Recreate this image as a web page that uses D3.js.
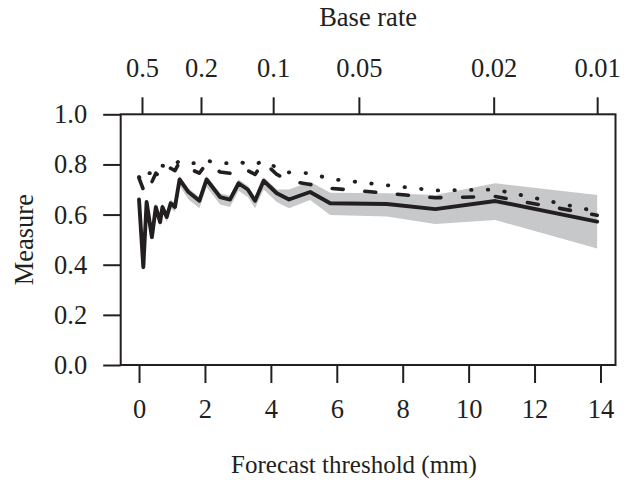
<!DOCTYPE html>
<html>
<head>
<meta charset="utf-8">
<script src="https://cdn.jsdelivr.net/npm/d3@7"></script>
<style>
  body { margin:0; background:#ffffff; }
  text { font-family:"Liberation Serif","Times New Roman",serif; fill:#231f20; }
</style>
</head>
<body>
<div id="chart"></div>
<script>
// forecast thresholds (mm) where each measure was evaluated
var thresholds = [0, 0.13, 0.23, 0.39, 0.51, 0.64, 0.71, 0.84, 0.96, 1.09, 1.23, 1.5, 1.83, 2.05, 2.46, 2.76, 3.02, 3.3, 3.52, 3.78, 4.18, 4.55, 5.19, 5.8, 7.52, 8.99, 10.81, 13.9];
// solid line and its grey band
var solidValues = [0.66, 0.39, 0.65, 0.51, 0.63, 0.57, 0.63, 0.59, 0.645, 0.63, 0.74, 0.69, 0.655, 0.74, 0.67, 0.66, 0.725, 0.70, 0.655, 0.735, 0.685, 0.66, 0.69, 0.645, 0.642, 0.622, 0.654, 0.572];
var bandLower = [0.645, 0.38, 0.63, 0.495, 0.61, 0.55, 0.61, 0.57, 0.625, 0.61, 0.715, 0.66, 0.625, 0.71, 0.64, 0.63, 0.695, 0.67, 0.625, 0.70, 0.65, 0.625, 0.658, 0.598, 0.592, 0.562, 0.578, 0.465];
var bandUpper = [0.67, 0.40, 0.665, 0.525, 0.645, 0.585, 0.645, 0.605, 0.66, 0.645, 0.755, 0.705, 0.67, 0.755, 0.685, 0.675, 0.74, 0.715, 0.67, 0.75, 0.70, 0.70, 0.731, 0.687, 0.685, 0.678, 0.725, 0.678];
// dashed and dotted measures
var dashedValues = [0.745, 0.70, 0.75, 0.73, 0.765, 0.75, 0.775, 0.765, 0.785, 0.775, 0.81, 0.785, 0.765, 0.805, 0.77, 0.765, 0.79, 0.775, 0.76, 0.81, 0.76, 0.735, 0.72, 0.705, 0.685, 0.667, 0.672, 0.597];
var dottedValues = [0.75, 0.735, 0.765, 0.765, 0.785, 0.785, 0.795, 0.79, 0.80, 0.80, 0.815, 0.805, 0.805, 0.815, 0.805, 0.805, 0.812, 0.80, 0.80, 0.815, 0.787, 0.768, 0.765, 0.742, 0.717, 0.696, 0.70, 0.612];

// axis ticks
var xTicks = [0, 2, 4, 6, 8, 10, 12, 14];
var yTicks = [0, 0.2, 0.4, 0.6, 0.8, 1.0];
var baseRateLabels = ["0.5", "0.2", "0.1", "0.05", "0.02", "0.01"];
var baseRatePos = [0.09, 1.88, 4.07, 6.67, 10.76, 13.9];

var width = 628, height = 480;
var plotLeft = 120.7, plotRight = 615.5, plotTop = 114.3, plotBottom = 365;
var ink = "#231f20";
var fontSize = "26.5px";

var svg = d3.select("#chart").append("svg").attr("width",width).attr("height",height);

// R style 4% padding on x
var ext = d3.extent(thresholds);
var pad = (ext[1]-ext[0])*0.04;
var xScale = d3.scaleLinear().domain([ext[0]-pad, ext[1]+pad]).range([plotLeft, plotRight]);
var yScale = d3.scaleLinear().domain([0,1]).range([plotBottom, plotTop]);

var rows = thresholds.map(function(t,i) {
    return {x:t, solid:solidValues[i], lo:bandLower[i], hi:bandUpper[i], dashed:dashedValues[i], dotted:dottedValues[i]};
});

//band
svg.append("path")
    .datum(rows)
    .attr("fill","#c7c8ca")
    .attr("stroke","none")
    .attr("d", d3.area()
        .x(function(d){ return xScale(d.x); })
        .y0(function(d){ return yScale(d.lo); })
        .y1(function(d){ return yScale(d.hi); }));

function drawLine(key, dash, w) {
    svg.append("path")
        .datum(rows)
        .attr("fill","none")
        .attr("stroke",ink)
        .attr("stroke-width",w)
        .attr("stroke-linecap","round")
        .attr("stroke-linejoin","round")
        .attr("stroke-dasharray",dash)
        .attr("d", d3.line()
            .x(function(d){ return xScale(d.x); })
            .y(function(d){ return yScale(d[key]); }));
}
drawLine("dotted","0.5,16.2",3.8);
drawLine("dashed","11,21.7",3.6);
drawLine("solid",null,3.9);

//box
svg.append("rect")
    .attr("x",plotLeft).attr("y",plotTop)
    .attr("width",plotRight-plotLeft).attr("height",plotBottom-plotTop)
    .attr("fill","none").attr("stroke",ink).attr("stroke-width",2);

function styleAxis(g) {
    g.select(".domain").remove();
    g.selectAll(".tick line").attr("stroke",ink).attr("stroke-width",2);
    g.selectAll(".tick text").attr("fill",ink).style("font-family","'Liberation Serif',serif").style("font-size",fontSize);
}

var axisB = svg.append("g").attr("transform","translate(0,"+plotBottom+")")
    .call(d3.axisBottom(xScale).tickValues(xTicks).tickSize(18).tickPadding(16).tickFormat(d3.format("d")));
styleAxis(axisB);

var axisL = svg.append("g").attr("transform","translate("+plotLeft+",0)")
    .call(d3.axisLeft(yScale).tickValues(yTicks).tickSize(17.5).tickPadding(16).tickFormat(d3.format(".1f")));
styleAxis(axisL);

var axisT = svg.append("g").attr("transform","translate(0,"+plotTop+")")
    .call(d3.axisTop(xScale).tickValues(baseRatePos).tickSize(17).tickPadding(20)
        .tickFormat(function(d,i){ return baseRateLabels[i]; }));
styleAxis(axisT);

//titles
svg.append("text")
    .attr("x",(plotLeft+plotRight)/2).attr("y",26)
    .attr("text-anchor","middle").style("font-size",fontSize)
    .text("Base rate");

svg.append("text")
    .attr("x",354).attr("y",473)
    .attr("text-anchor","middle").style("font-size","25px")
    .text("Forecast threshold (mm)");

svg.append("text")
    .attr("transform","translate(33,"+((plotTop+plotBottom)/2)+") rotate(-90)")
    .attr("text-anchor","middle").style("font-size",fontSize)
    .text("Measure");
</script>
</body>
</html>
